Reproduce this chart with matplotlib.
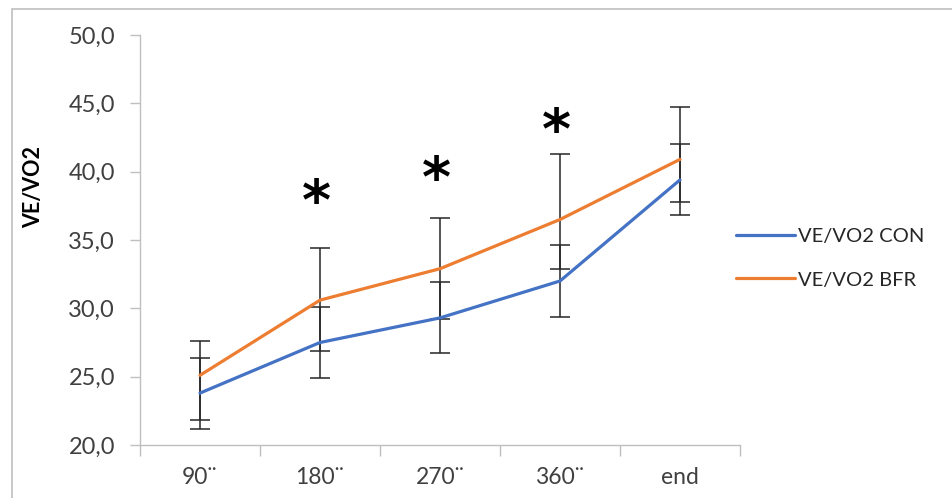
import matplotlib
matplotlib.use("Agg")
import matplotlib.pyplot as plt
from matplotlib.patches import Rectangle
from matplotlib.ticker import FixedLocator, FuncFormatter

plt.rcParams['font.family'] = ['Lato', 'DejaVu Sans']

categories = ['90¨', '180¨', '270¨', '360¨', 'end']

con_mean = [23.8, 27.5, 29.3, 32.0, 39.4]
con_err = [2.6, 2.6, 2.6, 2.6, 2.6]

bfr_mean = [25.1, 30.6, 32.9, 36.5, 40.9]
bfr_err_low = [3.3, 3.7, 3.7, 3.6, 3.1]
bfr_err_high = [2.5, 3.8, 3.7, 4.8, 3.8]

star_idx = [1, 2, 3]
star_y = [37.6, 39.3, 42.8]

x = list(range(len(categories)))

fig = plt.figure(figsize=(9.52, 4.98), dpi=100)
ax = fig.add_axes([140 / 952, 53 / 498, 600 / 952, 410 / 498])

# error bars under the lines
ax.errorbar(x, con_mean, yerr=con_err, fmt='none', ecolor='#262626',
            elinewidth=1.1, capsize=7, capthick=1.1, zorder=2)
ax.errorbar(x, bfr_mean, yerr=[bfr_err_low, bfr_err_high], fmt='none',
            ecolor='#262626', elinewidth=1.1, capsize=7, capthick=1.1, zorder=2)

ax.plot(x, con_mean, color='#4472C4', lw=2.3, label='VE/VO2 CON', zorder=3,
        solid_capstyle='round')
ax.plot(x, bfr_mean, color='#ED7D31', lw=2.3, label='VE/VO2 BFR', zorder=3,
        solid_capstyle='round')

for i, yy in zip(star_idx, star_y):
    ax.text(x[i] - 0.03, yy, '*', ha='center', va='center', fontsize=40,
            fontweight='bold', family='DejaVu Sans', color='black')

ax.set_xlim(-0.5, len(categories) - 0.5)
ax.set_ylim(20, 50)
ax.set_yticks([20, 25, 30, 35, 40, 45, 50])
ax.yaxis.set_major_formatter(FuncFormatter(lambda v, p: f'{v:.1f}'.replace('.', ',')))

ax.xaxis.set_major_locator(FixedLocator([i - 0.5 for i in range(len(categories) + 1)]))
ax.xaxis.set_major_formatter(FuncFormatter(lambda v, p: ''))
ax.xaxis.set_minor_locator(FixedLocator(x))
ax.set_xticklabels(categories, minor=True)

ax.tick_params(axis='x', which='major', length=8, width=1, color='#bfbfbf', direction='out')
ax.tick_params(axis='x', which='minor', length=0, pad=16, labelsize=16.5, labelcolor='#404040')
ax.tick_params(axis='y', length=7, width=1, color='#bfbfbf', pad=11,
               labelsize=17, labelcolor='#404040')

for s in ['top', 'right']:
    ax.spines[s].set_visible(False)
for s in ['left', 'bottom']:
    ax.spines[s].set_color('#bfbfbf')
    ax.spines[s].set_linewidth(1)

ax.set_ylabel('VE/VO2', fontsize=15.5, fontweight='bold', color='black')
ax.yaxis.set_label_coords(-0.16, 0.63)

fig.legend(loc='upper left', bbox_to_anchor=(718 / 952, 1 - 210 / 498), frameon=False,
           fontsize=14.5, handlelength=2.9, handletextpad=0.15, labelspacing=1.3,
           labelcolor='#262626')

# outer chart frame (partly cut off in the reference)
fig.patches.append(Rectangle((12 / 952, -0.1), 1.2, 1.1 - 9 / 498, transform=fig.transFigure,
                             fill=False, edgecolor='#bfbfbf', lw=1.2, zorder=0))

fig.savefig('out.png', dpi=100)
